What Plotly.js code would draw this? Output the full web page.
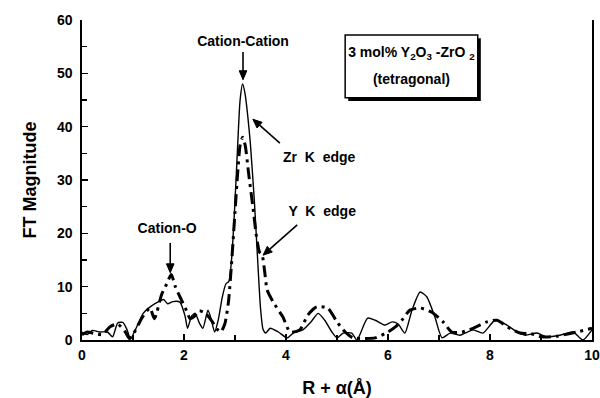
<!DOCTYPE html>
<html>
<head>
<meta charset="utf-8">
<script src="https://cdn.plot.ly/plotly-3.0.1.min.js"></script>
<style>html,body{margin:0;padding:0;background:#fff;}#chart{width:600px;height:398px;}</style>
</head>
<body>
<div id="chart"></div>
<script>
// Zr K edge (solid)
const zrX = [0, 0.1, 0.2, 0.35, 0.5, 0.6, 0.7, 0.8, 0.88, 0.95, 1.05, 1.2, 1.35, 1.5, 1.6, 1.68, 1.78, 1.92, 2.02, 2.07, 2.15, 2.22, 2.3, 2.37, 2.47, 2.53, 2.6, 2.67, 2.75, 2.82, 2.88, 2.94, 3.0, 3.05, 3.1, 3.15, 3.2, 3.25, 3.3, 3.38, 3.45, 3.5, 3.55, 3.6, 3.69, 3.85, 4.02, 4.14, 4.33, 4.5, 4.63, 4.76, 4.9, 5.0, 5.12, 5.29, 5.39, 5.6, 5.75, 5.94, 6.08, 6.2, 6.33, 6.47, 6.63, 6.76, 6.92, 7.06, 7.22, 7.41, 7.67, 7.86, 8.1, 8.33, 8.53, 8.69, 8.92, 9.1, 9.37, 9.63, 9.82, 10];
const zrY = [1.5, 1.0, 1.8, 1.5, 1.5, 0.6, 3.2, 3.3, 2.0, 0.2, 2.0, 5.0, 6.3, 7.2, 7.6, 6.8, 7.2, 7.1, 4.5, 2.2, 4.5, 5.0, 3.2, 2.2, 5.6, 4.0, 1.5, 3.7, 8.0, 10.5, 11, 16, 26, 36, 45, 48, 46, 42, 37, 26, 14, 6, 2, 1.3, 2.2, 1.5, 0.4, 1.3, 1.9, 3.5, 5.0, 3.7, 1.5, 0.4, 1.3, 1.3, 0, 4.1, 3.7, 2.8, 3.4, 3.0, 1.3, 5.6, 9.0, 8.1, 4.3, 0.4, 1.3, 0.9, 1.9, 1.3, 3.7, 2.8, 1.5, 0.9, 1.3, 0.6, 0.9, 1.5, 0.0, 1.9];
// Y K edge (dash-dot)
const yX = [0, 0.1, 0.25, 0.4, 0.55, 0.7, 0.85, 0.93, 1.0, 1.1, 1.2, 1.33, 1.42, 1.56, 1.66, 1.75, 1.83, 1.95, 2.05, 2.12, 2.2, 2.3, 2.42, 2.55, 2.65, 2.72, 2.8, 2.87, 2.93, 3.0, 3.05, 3.1, 3.15, 3.2, 3.27, 3.35, 3.42, 3.48, 3.53, 3.58, 3.63, 3.75, 3.94, 4.08, 4.27, 4.43, 4.6, 4.82, 5.0, 5.16, 5.31, 5.5, 5.75, 6.0, 6.15, 6.27, 6.43, 6.63, 6.86, 7.08, 7.25, 7.45, 7.67, 7.94, 8.14, 8.35, 8.59, 8.8, 9.0, 9.3, 9.7, 10];
const yY = [1.0, 1.5, 1.2, 1.0, 2.5, 3.0, 1.5, 0.3, 1.0, 2.8, 4.5, 6.0, 4.0, 8.5, 10.5, 12.3, 10.0, 7.5, 5.5, 4.0, 4.4, 5.5, 5.0, 3.5, 2.0, 1.5, 3.0, 7.0, 14, 24, 31, 36.5, 38, 36.5, 31, 25, 19.5, 16.5, 16.0, 13, 9.4, 7.1, 4.3, 1.5, 1.9, 4.7, 6.2, 6.0, 3.4, 1.5, 0.4, 0.3, 0.4, 1.5, 2.5, 3.7, 5.6, 6.0, 5.2, 3.4, 1.5, 1.5, 2.2, 3.4, 3.7, 2.4, 1.3, 1.2, 0.6, 0.7, 1.5, 2.2];
const xTicks = [0, 2, 4, 6, 8, 10];
const yTicks = [0, 10, 20, 30, 40, 50, 60];
// annotation labels
const labelText = ['Cation-Cation', 'Zr  K  edge', 'Y  K  edge', 'Cation-O',
  '3 mol% Y<sub>2</sub>O<sub>3</sub> -ZrO <sub>2</sub>', '(tetragonal)'];
const labelX = [3.157, 4.65, 4.71, 1.67, 6.46, 6.46];
const labelY = [55.8, 34.1, 24.0, 20.8, 53.8, 48.7];

const FONT = 'Liberation Sans, Arial, Helvetica, sans-serif';
const bold = (s) => ({family: FONT, size: s, color: '#000', weight: 'bold'});

const W = 600, H = 398, M = {l: 82, r: 8, t: 20, b: 58};
const XR = [0, 10], YR = [0, 60];
const pxX = (W - M.l - M.r) / (XR[1] - XR[0]);
const pxY = (H - M.t - M.b) / (YR[1] - YR[0]);

const traces = [
  {x: zrX, y: zrY, type: 'scatter', mode: 'lines', name: 'Zr K edge',
   line: {color: '#000', width: 1.4, shape: 'spline', smoothing: 0.6}},
  {x: yX, y: yY, type: 'scatter', mode: 'lines', name: 'Y K edge',
   line: {color: '#000', width: 3, dash: '12px,5px,3px,5px', shape: 'spline', smoothing: 0.6}},
  {x: labelX, y: labelY, text: labelText, type: 'scatter', mode: 'text', textposition: 'middle center',
   textfont: bold(14), cliponaxis: false, hoverinfo: 'skip'}
];

// arrow as shapes: shaft line + filled head (tip x,y ; tail ax,ay in data units)
function arrowShapes(x, y, ax, ay) {
  const dxp = (x - ax) * pxX, dyp = (y - ay) * pxY;
  const len = Math.hypot(dxp, dyp), ux = dxp / len, uy = dyp / len;
  const hl = 9, hw = 3.8;
  const bx = x - ux * hl / pxX, by = y - uy * hl / pxY;
  const p1x = bx + (-uy) * hw / pxX, p1y = by + ux * hw / pxY;
  const p2x = bx - (-uy) * hw / pxX, p2y = by - ux * hw / pxY;
  return [
    {type: 'line', xref: 'x', yref: 'y', x0: ax, y0: ay, x1: bx, y1: by, line: {color: '#000', width: 1.6}},
    {type: 'path', xref: 'x', yref: 'y', path: `M${x},${y} L${p1x},${p1y} L${p2x},${p2y} Z`,
     fillcolor: '#000', line: {color: '#000', width: 1}}
  ];
}

const layout = {
  width: W, height: H,
  margin: M,
  paper_bgcolor: '#fff', plot_bgcolor: '#fff',
  showlegend: false,
  font: {family: FONT, color: '#000'},
  xaxis: {range: XR, tickvals: xTicks, ticktext: xTicks.map(String),
    ticks: 'inside', ticklen: 6, tickwidth: 1.3, tickcolor: '#000',
    minor: {dtick: 1, tick0: 0, ticks: 'inside', ticklen: 5, tickwidth: 1.3, tickcolor: '#000'},
    showline: true, linecolor: '#000', linewidth: 1.6, showgrid: false, zeroline: false,
    tickfont: bold(14), ticklabelstandoff: 2,
    title: {text: 'R + α(Å)', font: bold(18), standoff: 20}},
  yaxis: {range: YR, tickvals: yTicks, ticktext: yTicks.map(String),
    ticks: 'inside', ticklen: 6, tickwidth: 1.3, tickcolor: '#000',
    minor: {dtick: 5, tick0: 0, ticks: 'inside', ticklen: 5, tickwidth: 1.3, tickcolor: '#000'},
    showline: true, mirror: true, linecolor: '#000', linewidth: 1.6, showgrid: false, zeroline: false,
    tickfont: bold(14), ticklabelstandoff: 5,
    title: {text: 'FT Magnitude', font: bold(18), standoff: 16}},
  shapes: [
    {type: 'rect', xref: 'x', yref: 'y', x0: 5.22, x1: 7.82, y0: 44.8, y1: 56.6, fillcolor: '#000', line: {width: 0}, layer: 'below'},
    {type: 'rect', xref: 'x', yref: 'y', x0: 5.16, x1: 7.76, y0: 45.4, y1: 57.2, fillcolor: '#fff', line: {color: '#000', width: 1.5}, layer: 'below'},
    ...arrowShapes(3.157, 48.8, 3.157, 54.0),
    ...arrowShapes(3.35, 41.4, 3.88, 36.9),
    ...arrowShapes(3.55, 15.9, 4.22, 21.6),
    ...arrowShapes(1.73, 12.6, 1.73, 18.2)
  ]
};

Plotly.newPlot('chart', traces, layout, {staticPlot: true, displayModeBar: false});
</script>
</body>
</html>
